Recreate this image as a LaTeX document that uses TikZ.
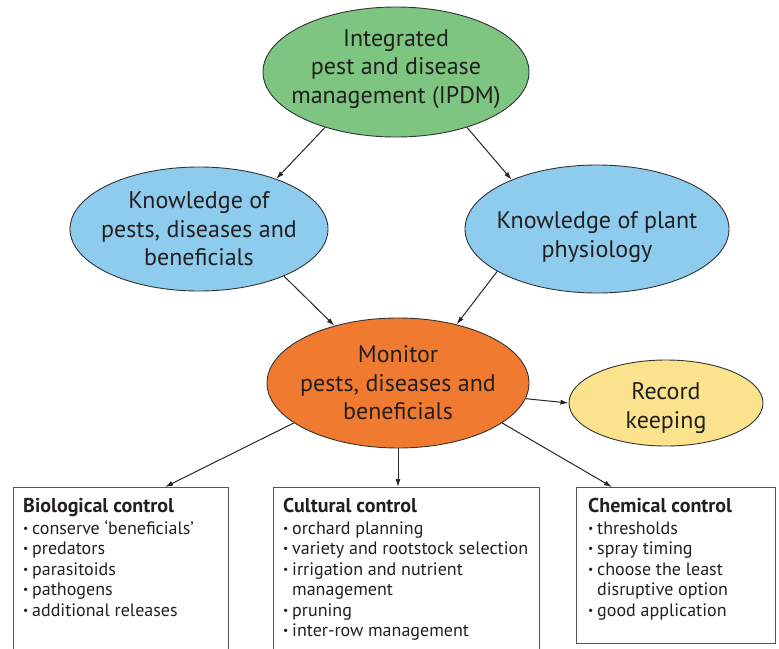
\documentclass[tikz,border=0pt]{standalone}
\usepackage{fontspec}
\setmainfont{PT Sans}
\usetikzlibrary{shapes.geometric,arrows.meta,calc}
\definecolor{cgreen}{RGB}{125,197,128}
\definecolor{cblue}{RGB}{142,204,238}
\definecolor{corange}{RGB}{240,122,48}
\definecolor{cyellow}{RGB}{251,226,140}
\definecolor{textc}{RGB}{35,31,32}
\definecolor{boxc}{RGB}{85,85,85}
\newcommand\bl{\makebox[9pt][l]{\raisebox{0.12em}{\scalebox{0.65}{\textbullet}}}}
\newcommand\hg{\hspace*{9pt}}
\begin{document}
\begin{tikzpicture}[x=1pt,y=-1pt,
  ell/.style={ellipse, draw=black!80, line width=0.9pt, inner sep=0pt},
  elltext/.style={inner sep=0pt, align=center, text=textc, font=\fontsize{24}{28.5}\selectfont},
  ctrlbox/.style={rectangle, draw=boxc, line width=1.4pt, inner sep=0pt, anchor=north west},
  ctrltext/.style={anchor=north west, align=left, inner sep=0pt, text=textc, font=\fontsize{18}{20.5}\selectfont},
  arr/.style={-{Latex[length=8pt,width=5pt]}, line width=1pt, draw=black!85}]
\useasboundingbox (0,0) rectangle (779,648);
\clip (0,0) rectangle (779,648);
\node[ell, fill=cgreen, minimum width=266, minimum height=130] (ipdm) at (396,72) {};
\node[ell, fill=cblue, minimum width=258, minimum height=124] (kpd) at (199,229) {};
\node[ell, fill=cblue, minimum width=264, minimum height=128] (kpp) at (597,229) {};
\node[ell, fill=corange, minimum width=262, minimum height=130] (mon) at (398,383) {};
\node[ell, fill=cyellow, minimum width=194, minimum height=86] (rec) at (666,403) {};
\node[elltext] (ipdmt) at ([yshift=3pt]ipdm.center) {Integrated\\pest and disease\\management (IPDM)};
\node[elltext] (kpdt) at (kpd.center) {Knowledge of\\pests, diseases and\\beneficials};
\node[elltext] (kppt) at ([yshift=-8pt]kpp.center) {Knowledge of plant\\physiology};
\node[elltext] (mont) at (mon.center) {Monitor\\pests, diseases and\\beneficials};
\node[elltext] (rect) at ([yshift=-5pt]rec.center) {Record\\keeping};
\node[ctrlbox, minimum width=215, minimum height=175] (bio) at (13,487) {};
\node[ctrlbox, minimum width=266, minimum height=175] (cul) at (273,487) {};
\node[ctrlbox, minimum width=199, minimum height=156] (che) at (576,487) {};
\node[ctrltext] (biot) at (23,498) {\textbf{\fontsize{20}{20.5}\selectfont Biological control}\\[1.5pt]
\bl conserve `beneficials'\\ \bl predators\\ \bl parasitoids\\ \bl pathogens\\ \bl additional releases};
\node[ctrltext] (cult) at (283,498) {\textbf{\fontsize{20}{20.5}\selectfont Cultural control}\\[1.5pt]
\bl orchard planning\\ \bl variety and rootstock selection\\ \bl irrigation and nutrient\\ \hg management\\ \bl pruning\\ \bl inter-row management};
\node[ctrltext] (chet) at (588,498) {\textbf{\fontsize{20}{20.5}\selectfont Chemical control}\\[1.5pt]
\bl thresholds\\ \bl spray timing\\ \bl choose the least\\ \hg disruptive option\\ \bl good application};
\draw[arr] (ipdm.218) -- (kpd.33);
\draw[arr] (ipdm.322) -- (kpp.150);
\draw[arr] (kpd.331) -- (mon.138);
\draw[arr] (kpp.203) -- (mon.45);
\draw[arr] (mon.353) -- (rec.west);
\draw[arr] (mon.201) -- ([xshift=152pt]bio.north west);
\draw[arr] (mon.south) -- (mon.south |- cul.north);
\draw[arr] (mon.339) -- ([xshift=36pt]che.north west);
\end{tikzpicture}
\end{document}
